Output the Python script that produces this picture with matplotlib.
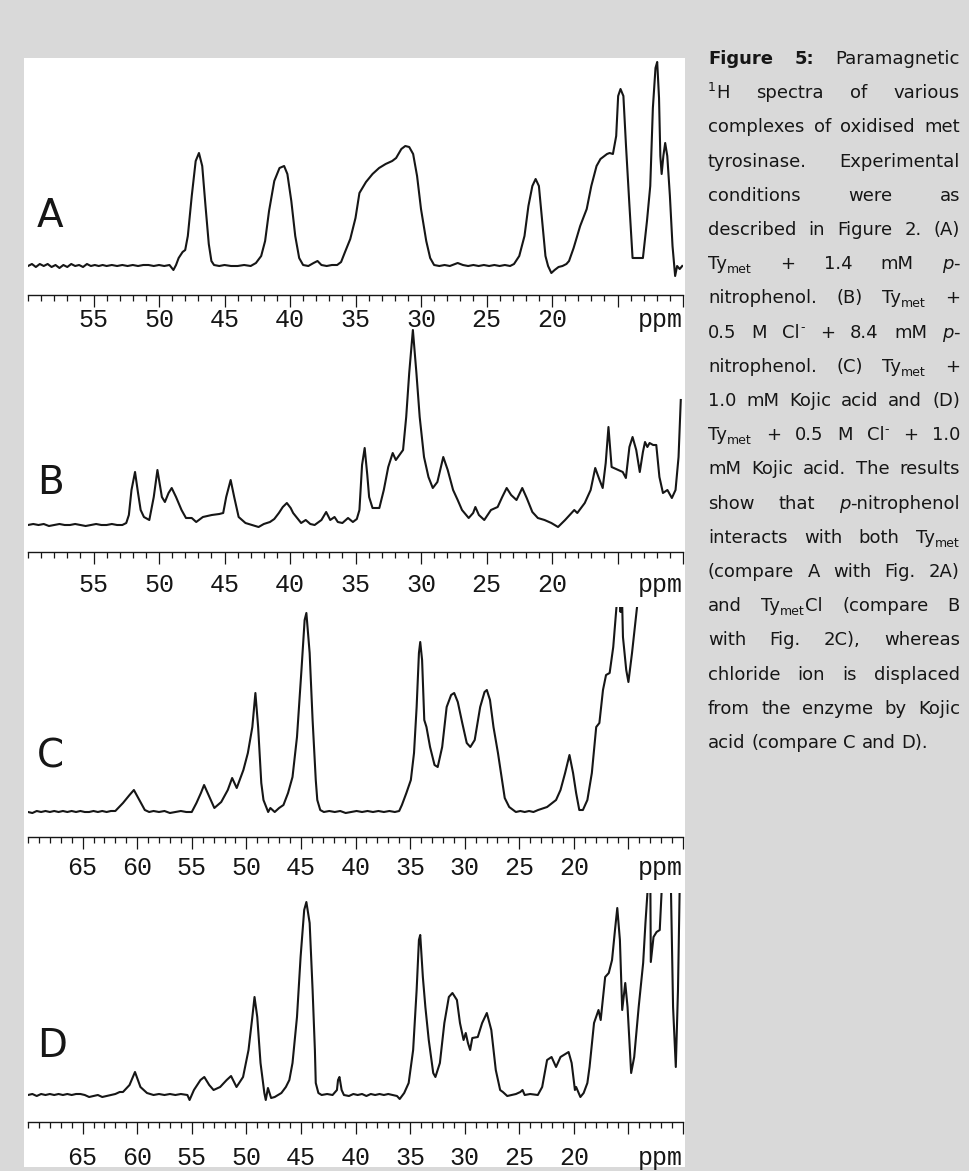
import re
import matplotlib
matplotlib.use("Agg")
import matplotlib.pyplot as plt
from matplotlib.patches import Rectangle
from matplotlib.transforms import ScaledTranslation

W, H, DPI = 970, 1171, 100

# ---------------------------------------------------------
# Spectra: chemical shift (ppm) and
# intensity (arbitrary units, 0 = baseline)
# ---------------------------------------------------------
a_ppm = [60.0, 59.7, 59.4, 59.1, 58.8, 58.5, 58.2, 57.9, 57.6, 57.3, 57.0, 56.7, 56.4, 56.1, 55.8, 55.5,
         55.2, 54.9, 54.6, 54.3, 54.0, 53.6, 53.2, 52.8, 52.4, 52.0, 51.6, 51.2, 50.8, 50.4, 50.0, 49.6,
         49.2, 48.9, 48.7, 48.5, 48.2, 48.0, 47.8, 47.5, 47.2, 46.95, 46.7, 46.45, 46.2, 46.0, 45.8, 45.4,
         45.0, 44.5, 44.0, 43.5, 43.0, 42.6, 42.2, 41.9, 41.6, 41.2, 40.8, 40.45, 40.2, 39.9, 39.6, 39.3,
         39.0, 38.6, 38.2, 37.9, 37.6, 37.2, 36.8, 36.4, 36.1, 35.8, 35.4, 35.0, 34.7, 34.2, 33.7, 33.2,
         32.7, 32.2, 31.9, 31.5, 31.2, 30.9, 30.6, 30.3, 30.0, 29.6, 29.3, 29.0, 28.6, 28.2, 27.8, 27.4,
         27.2, 26.8, 26.4, 26.0, 25.6, 25.2, 24.8, 24.4, 24.0, 23.6, 23.2, 22.9, 22.5, 22.1, 21.8, 21.5,
         21.25, 21.0, 20.75, 20.5, 20.3, 20.05, 19.8, 19.5, 19.2, 18.9, 18.7, 18.35, 17.85, 17.35, 17.0,
         16.6, 16.3, 15.8, 15.6, 15.35, 15.1, 14.95, 14.77, 14.55, 14.35, 14.1, 13.85, 13.6, 13.06, 12.75,
         12.5, 12.3, 12.1, 11.97, 11.83, 11.73, 11.63, 11.5, 11.36, 11.2, 11.0, 10.8, 10.6, 10.45, 10.25,
         10.06]
a_int = [0, 2, -1, 2, 0, 2, -1, 1, -2, 1, -1, 2, 0, 1, -1, 2,
         0, 1, 0, 1, 0, 1, 0, 1, 0, 1, 0, 1, 1, 0, 1, 0,
         1, -4, 1, 8, 14, 16, 30, 70, 105, 113, 100, 60, 22, 5, 1, 0,
         1, 0, 0, 1, 0, 3, 10, 25, 55, 85, 98, 100, 92, 65, 30, 8,
         1, 0, 3, 5, 1, 0, 1, 1, 4, 14, 27, 48, 73, 84, 92, 98,
         102, 105, 108, 117, 120, 119, 112, 90, 57, 25, 8, 1, 0, 1, 0, 2,
         3, 1, 0, 1, 0, 1, 0, 1, 0, 1, 0, 2, 10, 30, 60, 80,
         87, 80, 45, 10, 0, -7, -4, -1, 0, 2, 5, 18, 40, 57, 80,
         100, 107, 112, 113, 112, 130, 170, 177, 170, 120, 63, 8, 8, 8, 45,
         80, 158, 198, 204, 168, 110, 92, 110, 123, 110, 70, 20, -10, 0, -3,
         0]

b_ppm = [60.0, 59.6, 59.2, 58.8, 58.4, 58.0, 57.6, 57.2, 56.8, 56.4, 56.0, 55.6, 55.2, 54.8, 54.4, 54.0,
         53.6, 53.2, 52.8, 52.5, 52.3, 52.1, 51.83, 51.6, 51.4, 51.15, 50.74, 50.4, 50.12, 49.78, 49.55,
         49.27, 49.03, 48.7, 48.28, 47.94, 47.5, 47.16, 46.65, 45.97, 45.4, 45.1, 44.87, 44.53, 44.26,
         43.92, 43.4, 42.9, 42.4, 42.0, 41.53, 41.2, 40.85, 40.55, 40.24, 39.95, 39.76, 39.15, 38.8, 38.45,
         38.12, 37.6, 37.24, 36.93, 36.6, 36.35, 36.0, 35.57, 35.2, 34.9, 34.7, 34.5, 34.3, 34.1, 33.96,
         33.7, 33.18, 32.84, 32.5, 32.16, 31.92, 31.65, 31.37, 31.13, 30.9, 30.62, 30.35, 30.1, 29.77,
         29.43, 29.1, 28.75, 28.3, 27.96, 27.55, 27.2, 26.87, 26.36, 26.02, 25.85, 25.58, 25.17, 24.66,
         24.15, 23.8, 23.46, 23.12, 22.71, 22.27, 21.93, 21.5, 21.08, 20.57, 20.05, 19.54, 19.0, 18.3,
         18.07, 17.5, 17.05, 16.7, 16.37, 16.13, 15.9, 15.69, 15.45, 14.94, 14.6, 14.36, 14.09, 13.85,
         13.57, 13.3, 13.06, 12.9, 12.72, 12.55, 12.28, 12.04, 11.8, 11.53, 11.19, 10.85, 10.57, 10.34,
         10.17]
b_int = [0, 1, 0, 1, -1, 0, 1, 0, 0, 1, 0, -1, 0, 1, 0, 0,
         1, 0, 0, 2, 10, 35, 53, 32, 15, 8, 5, 28, 55, 28, 23,
         32, 37, 28, 15, 7, 7, 3, 8, 10, 11, 12, 28, 45, 28,
         8, 2, 0, -2, 1, 3, 6, 12, 18, 22, 17, 12, 2, 5, 1,
         0, 5, 13, 5, 8, 3, 2, 7, 3, 6, 15, 60, 77, 50, 28,
         17, 17, 35, 58, 72, 65, 70, 75, 108, 152, 195, 152, 108, 68,
         48, 37, 43, 68, 55, 35, 25, 15, 7, 12, 18, 10, 5, 15,
         18, 28, 37, 30, 25, 37, 27, 13, 7, 5, 2, -2, 5, 15,
         12, 22, 35, 57, 45, 37, 62, 98, 58, 55, 53, 47, 78, 88,
         75, 53, 73, 83, 78, 82, 80, 80, 48, 32, 35, 27, 35, 68,
         125]

c_ppm = [70.0, 69.6, 69.2, 68.8, 68.4, 68.0, 67.6, 67.2, 66.8, 66.4, 66.0, 65.6, 65.2, 64.8, 64.4, 64.0,
         63.6, 63.2, 62.8, 62.4, 62.0, 61.3, 60.7, 60.3, 59.9, 59.3, 58.9, 58.5, 58.0, 57.5, 57.0, 56.5,
         56.0, 55.5, 55.0, 54.57, 54.16, 53.87, 53.54, 52.93, 52.3, 51.7, 51.3, 50.88, 50.27, 49.86,
         49.45, 49.17, 48.92, 48.63, 48.43, 48.0, 47.8, 47.4, 47.0, 46.6, 46.18, 45.77, 45.36, 44.95,
         44.66, 44.5, 44.2, 43.93, 43.64, 43.5, 43.23, 42.9, 42.4, 41.9, 41.4, 40.9, 40.4, 39.9, 39.4,
         38.9, 38.4, 37.9, 37.4, 36.9, 36.4, 36.0, 35.75, 35.34, 34.93, 34.64, 34.4, 34.19, 34.07, 33.9,
         33.7, 33.5, 33.17, 32.76, 32.47, 32.06, 31.65, 31.24, 30.96, 30.63, 30.22, 29.81, 29.48, 29.08,
         28.58, 28.18, 27.97, 27.68, 27.36, 26.95, 26.54, 26.33, 25.92, 25.31, 24.9, 24.5, 24.1, 23.7,
         23.27, 22.45, 21.63, 21.22, 20.8, 20.4, 20.07, 19.79, 19.5, 19.17, 18.76, 18.56, 18.35, 17.95,
         17.66, 17.33, 17.05, 16.72, 16.39, 16.19, 16.02, 15.86, 15.72, 15.62, 15.5, 15.2, 15.0, 14.67,
         14.34, 14.06, 13.5, 12.0, 10.0]
c_int = [0, -1, 1, 0, 1, 0, 1, 0, 1, 0, 1, 0, 1, 0, 0, 1,
         0, 1, 0, 1, 1, 9, 17, 22, 14, 2, 0, 1, 0, 1, -1, 0,
         1, 0, 0, 9, 19, 27, 19, 4, 10, 22, 34, 24, 42, 59,
         85, 119, 85, 29, 12, 0, 4, 0, 4, 7, 19, 35, 75, 142,
         192, 199, 159, 92, 32, 12, 2, 0, 1, 0, 1, -1, 0, 1, 0,
         1, 0, 1, 0, 1, 0, 1, 7, 19, 32, 59, 105, 159, 170, 152,
         92, 85, 65, 47, 45, 65, 105, 117, 119, 110, 89, 69, 65, 72,
         105, 120, 122, 112, 85, 59, 29, 14, 5, 0, 1, 0, 1, 0,
         2, 5, 12, 22, 39, 57, 39, 19, 2, 2, 12, 25, 39, 85,
         89, 122, 137, 139, 165, 192, 215, 250, 200, 230, 175, 142, 130, 159,
         192, 220, 280, 300, 300]

d_ppm = [70.0, 69.6, 69.2, 68.8, 68.4, 68.0, 67.6, 67.2, 66.8, 66.4, 66.0, 65.6, 65.2, 64.8, 64.4, 64.0,
         63.6, 63.2, 62.8, 62.4, 62.0, 61.6, 61.3, 60.7, 60.2, 59.7, 59.1, 58.5, 58.0, 57.5, 57.0, 56.5,
         56.0, 55.4, 55.2, 54.8, 54.2, 53.85, 53.4, 53.0, 52.4, 51.8, 51.4, 50.9, 50.3, 49.8, 49.45,
         49.25, 49.0, 48.7, 48.5, 48.35, 48.22, 48.02, 47.73, 47.4, 46.79, 46.38, 46.06, 45.77, 45.36,
         45.03, 44.7, 44.5, 44.2, 43.93, 43.72, 43.64, 43.4, 43.1, 42.6, 42.1, 41.7, 41.6, 41.47, 41.27,
         41.06, 40.6, 40.2, 39.8, 39.4, 39.0, 38.6, 38.2, 37.8, 37.4, 37.0, 36.6, 36.2, 35.95, 35.54,
         35.13, 34.72, 34.4, 34.19, 34.07, 33.83, 33.6, 33.29, 32.88, 32.68, 32.27, 31.86, 31.45, 31.12,
         30.71, 30.43, 30.1, 29.9, 29.7, 29.5, 29.3, 28.8, 28.4, 27.97, 27.56, 27.15, 26.75, 26.5, 26.1,
         25.7, 25.3, 24.9, 24.7, 24.5, 24.0, 23.3, 22.9, 22.45, 22.04, 21.63, 21.22, 20.48, 20.2, 19.9,
         19.79, 19.4, 19.1, 18.76, 18.56, 18.15, 17.74, 17.54, 17.13, 16.8, 16.5, 16.23, 16.02, 15.78,
         15.57, 15.29, 15.08, 14.75, 14.47, 14.06, 13.65, 13.44, 13.24, 13.1, 13.0, 12.95, 12.7, 12.42,
         12.13, 11.93, 11.7, 11.3, 11.11, 10.91, 10.66, 10.46, 10.3, 10.0]
d_int = [0, 1, -1, 1, 0, 1, 0, 1, 0, 1, 0, 1, 1, 0, -2, -1,
         0, -2, -1, 0, 1, 3, 3, 10, 23, 8, 2, 0, 1, 0, 1, 0,
         1, 0, -5, 5, 15, 18, 10, 5, 8, 15, 19, 8, 18, 45, 78,
         98, 78, 32, 15, 2, -5, 7, -3, -2, 2, 8, 15, 32, 78,
         138, 185, 193, 172, 105, 45, 12, 2, 0, 1, 0, 5, 15, 18, 5,
         0, -1, 1, 0, 1, -1, 1, 0, 1, 0, 1, 0, -1, -4, 2,
         12, 45, 105, 155, 160, 118, 88, 55, 22, 18, 32, 72, 98, 102,
         95, 72, 55, 62, 52, 45, 57, 58, 72, 82, 65, 25, 5, 3, -1,
         0, 1, 3, 5, 0, 1, 0, 8, 35, 38, 28, 38, 43, 32, 5,
         8, -2, 2, 12, 28, 72, 85, 75, 118, 122, 135, 165, 187, 155,
         85, 112, 88, 22, 38, 88, 132, 172, 205, 260, 230, 133, 158, 163,
         165, 210, 300, 300, 210, 88, 28, 105, 210, 300]

spectra = [(a_ppm, a_int), (b_ppm, b_int), (c_ppm, c_int), (d_ppm, d_int)]
panel_letters = ["A", "B", "C", "D"]
ab_labels = [55, 50, 45, 40, 35, 30, 25, 20]
cd_labels = [65, 60, 55, 50, 45, 40, 35, 30, 25, 20]

caption_lines = [
    "**Figure** **5:** Paramagnetic",
    "^{1}H spectra of various",
    "complexes of oxidised met",
    "tyrosinase. Experimental",
    "conditions were as",
    "described in Figure 2. (A)",
    "Ty_{met} + 1.4 mM *p*-",
    "nitrophenol. (B) Ty_{met} +",
    "0.5 M Cl^{-} + 8.4 mM *p*-",
    "nitrophenol. (C) Ty_{met} +",
    "1.0 mM Kojic acid and (D)",
    "Ty_{met} + 0.5 M Cl^{-} + 1.0",
    "mM Kojic acid. The results",
    "show that *p*-nitrophenol",
    "interacts with both Ty_{met}",
    "(compare A with Fig. 2A)",
    "and Ty_{met}Cl (compare B",
    "with Fig. 2C), whereas",
    "chloride ion is displaced",
    "from the enzyme by Kojic",
    "acid (compare C and D).",
]

# ---------------------------------------------------------
# Layout (pixels from the top-left of the image)
# ---------------------------------------------------------
BG = "#d9d9d9"
INK = "#161616"
AX_X0, AX_X1 = 28, 683
panels = [
    # axis line y, baseline y, top y, xlim, label baseline offset, letter bottom
    dict(axis=295, base=266, top=50, xlim=(60, 10), off=32, letter=227, labels=ab_labels),
    dict(axis=552, base=525, top=320, xlim=(60, 10), off=40, letter=494, labels=ab_labels),
    dict(axis=837, base=812, top=607, xlim=(70, 10), off=38, letter=768, labels=cd_labels),
    dict(axis=1122, base=1095, top=893, xlim=(70, 10), off=43, letter=1057, labels=cd_labels),
]

fig = plt.figure(figsize=(W / DPI, H / DPI), dpi=DPI, facecolor=BG)
fig.patches.append(Rectangle((24.5 / W, 1 - 1167 / H), (685 - 24.5) / W, (1167 - 58) / H,
                             transform=fig.transFigure, facecolor="white", edgecolor="none", zorder=-5))

for (ppm, inten), p, letter in zip(spectra, panels, panel_letters):
    ax = fig.add_axes([AX_X0 / W, 1 - p["axis"] / H, (AX_X1 - AX_X0) / W, (p["axis"] - p["top"]) / H])
    ax.patch.set_alpha(0)
    ax.plot(ppm, inten, color=INK, lw=1.5, solid_joinstyle="round")
    ax.set_xlim(*p["xlim"])
    ax.set_ylim(p["base"] - p["axis"], p["base"] - p["top"])
    for s in ["top", "left", "right"]:
        ax.spines[s].set_visible(False)
    ax.spines["bottom"].set_linewidth(1.0)
    ax.spines["bottom"].set_color(INK)
    hi, lo = p["xlim"]
    ax.set_xticks(list(range(hi - 5, lo - 1, -5)))
    ax.set_xticks(list(range(hi, lo - 1, -1)), minor=True)
    ax.set_yticks([])
    ax.tick_params(which="major", direction="out", length=12 / 1.389, width=0.9, color=INK, labelbottom=False)
    ax.tick_params(which="minor", direction="out", length=6.5 / 1.389, width=0.9, color=INK)
    tr = ax.get_xaxis_transform() + ScaledTranslation(0, -p["off"] / DPI, fig.dpi_scale_trans)
    for v in p["labels"]:
        ax.text(v, 0, str(v), transform=tr, ha="center", va="baseline",
                family="Liberation Mono", fontsize=18, color=INK)
    tr2 = ax.transAxes + ScaledTranslation(0, -p["off"] / DPI, fig.dpi_scale_trans)
    ax.text(1.0, 0, "ppm", transform=tr2, ha="right", va="baseline",
            family="Liberation Mono", fontsize=18, color=INK)
    fig.text(37 / W, 1 - p["letter"] / H, letter, fontsize=28, family="DejaVu Sans",
             color=INK, ha="left", va="baseline")

# ---------------------------------------------------------
# Caption: justified text with bold / italic / sub / superscript
# ---------------------------------------------------------
CAP_X0, CAP_X1 = 708, 960
CAP_Y0, CAP_DY = 64, 34.2
FS, FS_SMALL = 13, 9
styles = {
    "n": dict(size=FS, weight="normal", style="normal", dy=0),
    "b": dict(size=FS, weight="bold", style="normal", dy=0),
    "i": dict(size=FS, weight="normal", style="italic", dy=0),
    "sub": dict(size=FS_SMALL, weight="normal", style="normal", dy=4),
    "sup": dict(size=FS_SMALL, weight="normal", style="normal", dy=-7),
}
renderer = fig.canvas.get_renderer()


def parse_word(word):
    segs = []
    for m in re.finditer(r"\*\*(.+?)\*\*|\*(.+?)\*|_\{(.+?)\}|\^\{(.+?)\}|([^*_^]+)", word):
        b, i, sub, sup, n = m.groups()
        if b:
            segs.append((b, "b"))
        elif i:
            segs.append((i, "i"))
        elif sub:
            segs.append((sub, "sub"))
        elif sup:
            segs.append((sup, "sup"))
        else:
            segs.append((n, "n"))
    return segs


def make_text(x, y, s, st):
    kw = styles[st]
    return fig.text(x / W, 1 - (y + kw["dy"]) / H, s, fontsize=kw["size"], fontweight=kw["weight"],
                    fontstyle=kw["style"], family="DejaVu Sans", color=INK, ha="left", va="baseline")


def seg_width(s, st):
    t = make_text(0, 0, s, st)
    w = t.get_window_extent(renderer).width
    t.remove()
    return w


space_w = seg_width("a a", "n") - seg_width("aa", "n")

for k, line in enumerate(caption_lines):
    y = CAP_Y0 + k * CAP_DY
    words = [parse_word(w) for w in line.split(" ")]
    widths = [[seg_width(s, st) for s, st in w] for w in words]
    totals = [sum(ws) for ws in widths]
    last = k == len(caption_lines) - 1
    gap = space_w if last else (CAP_X1 - CAP_X0 - sum(totals)) / (len(words) - 1)
    x = CAP_X0
    for w, ws in zip(words, widths):
        for (s, st), sw in zip(w, ws):
            make_text(x, y, s, st)
            x += sw
        x += gap

fig.savefig("out.png", dpi=DPI, facecolor=BG)
